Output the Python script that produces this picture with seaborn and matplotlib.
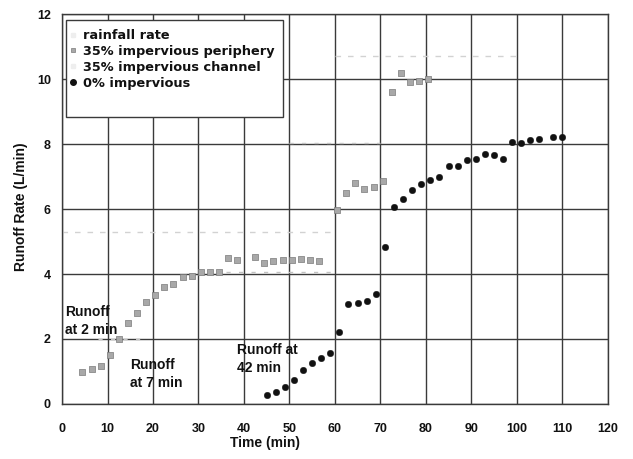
import numpy as np
import pandas as pd
import matplotlib
matplotlib.use("Agg")
import matplotlib.pyplot as plt
from matplotlib.lines import Line2D
from matplotlib.patches import Rectangle
import seaborn as sns

# ---------------- data ----------------
periph_t = [4.5, 6.5, 8.5, 10.5, 12.5, 14.5, 16.5, 18.5, 20.5, 22.5, 24.5, 26.5,
            28.5, 30.5, 32.5, 34.5, 36.5, 38.5, 42.5, 44.5, 46.5, 48.5, 50.5,
            52.5, 54.5, 56.5, 60.5, 62.5, 64.5, 66.5, 68.5, 70.5, 72.5, 74.5,
            76.5, 78.5, 80.5]
periph_q = [0.98, 1.08, 1.17, 1.5, 2.0, 2.5, 2.8, 3.15, 3.35, 3.6, 3.7, 3.9,
            3.93, 4.05, 4.05, 4.05, 4.5, 4.43, 4.52, 4.33, 4.4, 4.43, 4.43,
            4.45, 4.43, 4.4, 5.97, 6.5, 6.8, 6.63, 6.68, 6.86, 9.6, 10.2,
            9.9, 9.93, 10.0]

imperv0_t = [45, 47, 49, 51, 53, 55, 57, 59, 61, 63, 65, 67, 69, 71, 73, 75, 77,
             79, 81, 83, 85, 87, 89, 91, 93, 95, 97, 99, 101, 103, 105, 108, 110]
imperv0_q = [0.28, 0.37, 0.52, 0.74, 1.05, 1.26, 1.41, 1.57, 2.22, 3.08, 3.1,
             3.17, 3.38, 4.83, 6.06, 6.3, 6.58, 6.77, 6.89, 7.0, 7.32, 7.32,
             7.5, 7.53, 7.69, 7.66, 7.54, 8.06, 8.03, 8.12, 8.15, 8.22, 8.22]

rain_t = [0, 60, 60, 100]
rain_q = [5.3, 5.3, 10.7, 10.7]
rain_seg = [1, 1, 2, 2]

channel_t = [8, 18, 36, 60, 50, 70]
channel_q = [2.0, 2.0, 4.05, 4.05, 8.05, 8.05]
channel_seg = [1, 1, 2, 2, 3, 3]

legend_labels = ["rainfall rate", "35% impervious periphery",
                 "35% impervious channel", "0% impervious"]

x_ticks = list(range(0, 121, 10))
y_ticks = list(range(0, 13, 2))

# ---------------- style ----------------
sns.set_theme(style="white")
plt.rcParams["font.family"] = ["Liberation Sans", "DejaVu Sans"]
plt.rcParams["font.weight"] = "bold"

fig = plt.figure(figsize=(6.33, 4.59), dpi=100)
ax = fig.add_axes([0.098, 0.120, 0.862, 0.849])

rain_df = pd.DataFrame({"t": rain_t, "q": rain_q, "seg": rain_seg})
chan_df = pd.DataFrame({"t": channel_t, "q": channel_q, "seg": channel_seg})
per_df = pd.DataFrame({"t": periph_t, "q": periph_q})
imp_df = pd.DataFrame({"t": imperv0_t, "q": imperv0_q})

sns.lineplot(data=rain_df, x="t", y="q", units="seg", ax=ax, color="#d2d2d2",
             lw=1.0, linestyle=(0, (4, 5)), estimator=None, sort=False, zorder=2)
sns.lineplot(data=chan_df, x="t", y="q", units="seg", ax=ax, color="#c2c2c2",
             lw=1.0, linestyle=(0, (3, 6)), estimator=None, sort=False, zorder=2)
sns.scatterplot(data=per_df, x="t", y="q", ax=ax, marker="s", s=14,
                color="#a8a8a8", edgecolor="#7a7a7a", linewidth=0.5, zorder=3)
sns.scatterplot(data=imp_df, x="t", y="q", ax=ax, marker="o", s=22,
                color="#111111", edgecolor="#111111", linewidth=0.3, zorder=4)

ax.set_xlim(0, 120)
ax.set_ylim(0, 12)
ax.set_xticks(x_ticks)
ax.set_yticks(y_ticks)
ax.set_xticklabels([str(v) for v in x_ticks], fontsize=9, fontweight="bold")
ax.set_yticklabels([str(v) for v in y_ticks], fontsize=9, fontweight="bold")
ax.grid(True, color="#3a3a3a", lw=1.0)
ax.set_axisbelow(True)
for sp in ax.spines.values():
    sp.set_color("#3a3a3a")
    sp.set_linewidth(1.0)
ax.tick_params(axis="both", direction="inout", length=6, width=1.0,
               color="#3a3a3a", colors="#111111")
ax.tick_params(axis="x", pad=11)
ax.tick_params(axis="y", pad=5)

ax.set_xlabel("Time (min)", fontsize=10, fontweight="bold", color="#111111")
ax.set_ylabel("Runoff Rate (L/min)", fontsize=10, fontweight="bold", color="#111111")
ax.xaxis.set_label_coords(0.372, -0.082)
ax.yaxis.set_label_coords(-0.062, 0.505)

# annotations
ax.text(0.6, 2.55, "Runoff\nat 2 min", fontsize=10, fontweight="bold",
        ha="left", va="center", linespacing=1.3, color="#111111", zorder=5)
ax.text(14.9, 0.92, "Runoff\nat 7 min", fontsize=10, fontweight="bold",
        ha="left", va="center", linespacing=1.3, color="#111111", zorder=5)
ax.text(38.4, 1.38, "Runoff at\n42 min", fontsize=10, fontweight="bold",
        ha="left", va="center", linespacing=1.3, color="#111111", zorder=5)

# legend
handles = [
    Line2D([], [], linestyle="none", marker="s", markersize=3, color="#eeeeee"),
    Line2D([], [], linestyle="none", marker="s", markersize=3.5,
           markerfacecolor="#a8a8a8", markeredgecolor="#7a7a7a", markeredgewidth=0.5),
    Line2D([], [], linestyle="none", marker="s", markersize=3, color="#eeeeee"),
    Line2D([], [], linestyle="none", marker="o", markersize=4, color="#111111"),
]
box = Rectangle((0.007, 0.735), 0.398, 0.249, transform=ax.transAxes,
                facecolor="white", edgecolor="#3a3a3a", lw=1.0, zorder=6)
ax.add_patch(box)
leg = ax.legend(handles, legend_labels, loc="upper left",
                bbox_to_anchor=(0.01, 0.962), frameon=False,
                prop={"family": "DejaVu Sans", "weight": "bold", "size": 9.3},
                handlelength=0.8, handletextpad=0.4, labelspacing=0.22,
                borderpad=0, borderaxespad=0)
leg.set_zorder(7)
for t in leg.get_texts():
    t.set_color("#111111")

fig.savefig("out.png", dpi=100)
